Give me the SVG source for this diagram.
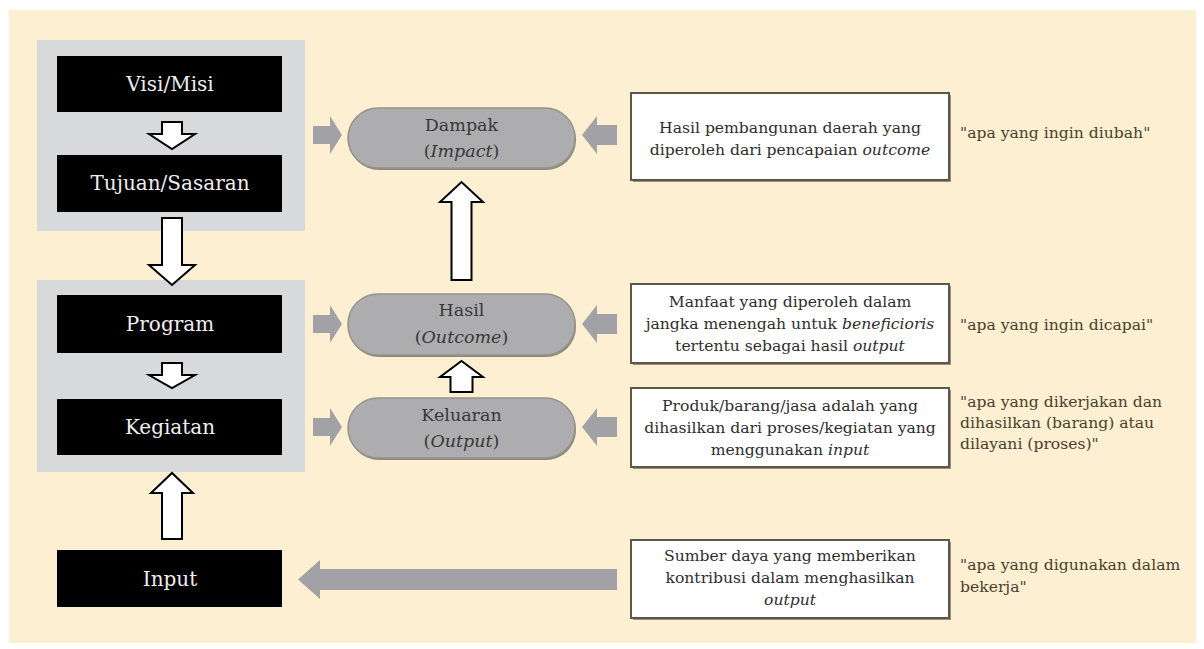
<svg xmlns="http://www.w3.org/2000/svg" width="1204" height="649" viewBox="0 0 1204 649">
<style>
.grp{fill:#D8D9DB}
.blk{fill:#000}
.btxt{font-family:"DejaVu Serif","Liberation Serif",serif;font-size:20px;fill:#EFEFEF;text-anchor:middle}
.pill{fill:#ADADAF;stroke:#96918A;stroke-width:1.5}
.pshadow{fill:#8E887C}
.ptxt{font-family:"DejaVu Serif","Liberation Serif",serif;font-size:17.5px;fill:#383838;text-anchor:middle}
.desc{fill:#FFFFFF;stroke:#5E5748;stroke-width:2}
.dshadow{fill:#9A9080}
.dtxt{font-family:"DejaVu Serif","Liberation Serif",serif;font-size:15.6px;fill:#2E2E2E;text-anchor:middle}
.qtxt{font-family:"DejaVu Serif","Liberation Serif",serif;font-size:15.6px;fill:#4A3F2C}
.garr{fill:#A2A2A6}
.warr{fill:#FFFFFF;stroke:#000;stroke-width:2;stroke-linejoin:miter}
.it{font-style:italic}
</style>
<rect x="0" y="0" width="1204" height="649" fill="#FFFFFF"/>
<rect x="9" y="10" width="1187" height="633" fill="#FDEFD1"/>

<g id="group-strategic"><rect class="grp" x="37" y="40" width="268" height="191"/></g>
<g id="group-operational"><rect class="grp" x="37" y="280" width="268" height="192"/></g>

<g id="visi-misi"><rect class="blk" x="57" y="56" width="225" height="56"/><text class="btxt" x="170" y="91">Visi/Misi</text></g>
<g id="tujuan-sasaran"><rect class="blk" x="57" y="155" width="225" height="57"/><text class="btxt" x="170" y="190">Tujuan/Sasaran</text></g>
<g id="program"><rect class="blk" x="57" y="295" width="225" height="58"/><text class="btxt" x="170" y="331">Program</text></g>
<g id="kegiatan"><rect class="blk" x="57" y="399" width="225" height="56"/><text class="btxt" x="170" y="434">Kegiatan</text></g>
<g id="input"><rect class="blk" x="57" y="550" width="225" height="57"/><text class="btxt" x="170" y="586">Input</text></g>

<g id="dampak"><rect class="pshadow" x="349" y="110" width="227" height="60" rx="30"/><rect class="pill" x="348" y="108" width="227" height="60" rx="30"/><text class="ptxt" x="461.5" y="131">Dampak</text><text class="ptxt" x="461.5" y="157">(<tspan class="it">Impact</tspan>)</text></g>
<g id="hasil"><rect class="pshadow" x="349" y="296" width="227" height="61" rx="30"/><rect class="pill" x="348" y="294" width="227" height="61" rx="30"/><text class="ptxt" x="461.5" y="316">Hasil</text><text class="ptxt" x="461.5" y="343">(<tspan class="it">Outcome</tspan>)</text></g>
<g id="keluaran"><rect class="pshadow" x="349" y="400" width="227" height="60" rx="30"/><rect class="pill" x="348" y="398" width="227" height="60" rx="30"/><text class="ptxt" x="461.5" y="421">Keluaran</text><text class="ptxt" x="461.5" y="447">(<tspan class="it">Output</tspan>)</text></g>

<g id="desc-dampak"><rect class="dshadow" x="633" y="95" width="318" height="87"/><rect class="desc" x="631" y="93" width="318" height="87"/>
<text class="dtxt" x="790" y="133">Hasil pembangunan daerah yang</text>
<text class="dtxt" x="790" y="155">diperoleh dari pencapaian <tspan class="it">outcome</tspan></text></g>
<g id="desc-hasil"><rect class="dshadow" x="633" y="286" width="318" height="79"/><rect class="desc" x="631" y="284" width="318" height="79"/>
<text class="dtxt" x="790" y="307">Manfaat yang diperoleh dalam</text>
<text class="dtxt" x="790" y="329">jangka menengah untuk <tspan class="it">beneficioris</tspan></text>
<text class="dtxt" x="790" y="351">tertentu sebagai hasil <tspan class="it">output</tspan></text></g>
<g id="desc-keluaran"><rect class="dshadow" x="633" y="390" width="318" height="79"/><rect class="desc" x="631" y="388" width="318" height="79"/>
<text class="dtxt" x="790" y="411">Produk/barang/jasa adalah yang</text>
<text class="dtxt" x="790" y="433">dihasilkan dari proses/kegiatan yang</text>
<text class="dtxt" x="790" y="455">menggunakan <tspan class="it">input</tspan></text></g>
<g id="desc-input"><rect class="dshadow" x="633" y="542" width="318" height="78"/><rect class="desc" x="631" y="540" width="318" height="78"/>
<text class="dtxt" x="790" y="561">Sumber daya yang memberikan</text>
<text class="dtxt" x="790" y="583">kontribusi dalam menghasilkan</text>
<text class="dtxt" x="790" y="605" font-style="italic">output</text></g>

<g id="quote-dampak"><text class="qtxt" x="960" y="138">"apa yang ingin diubah"</text></g>
<g id="quote-hasil"><text class="qtxt" x="960" y="330">"apa yang ingin dicapai"</text></g>
<g id="quote-keluaran"><text class="qtxt" x="960" y="407">"apa yang dikerjakan dan</text><text class="qtxt" x="960" y="428">dihasilkan (barang) atau</text><text class="qtxt" x="960" y="449">dilayani (proses)"</text></g>
<g id="quote-input"><text class="qtxt" x="960" y="570">"apa yang digunakan dalam</text><text class="qtxt" x="960" y="592">bekerja"</text></g>

<g id="connectors">
<polygon class="garr" points="313,126 330,126 330,116 342,135 330,154 330,144 313,144"/>
<polygon class="garr" points="313,315 330,315 330,305 342,324 330,343 330,333 313,333"/>
<polygon class="garr" points="313,418 330,418 330,408 342,427 330,446 330,436 313,436"/>
<polygon class="garr" points="617,125 597,125 597,116 582,135 597,154 597,145 617,145"/>
<polygon class="garr" points="617,314 597,314 597,305 582,324 597,343 597,334 617,334"/>
<polygon class="garr" points="617,417 597,417 597,408 582,427 597,446 597,437 617,437"/>
<polygon class="garr" points="617,569 320,569 320,560 298,579.5 320,599 320,590 617,590"/>
<polygon class="warr" points="162,122 182,122 182,134 195,134 172,149 149,134 162,134"/>
<polygon class="warr" points="162,218 182,218 182,265 195,265 172,285 149,265 162,265"/>
<polygon class="warr" points="162,363 182,363 182,375 195,375 172,388 149,375 162,375"/>
<polygon class="warr" points="162,539 182,539 182,493 193,493 172,473 151,493 162,493"/>
<polygon class="warr" points="451.5,280 471.5,280 471.5,202 483,202 461.5,182 440,202 451.5,202"/>
<polygon class="warr" points="450.5,392 472.5,392 472.5,377 483,377 461.5,361 440,377 450.5,377"/>
</g>
</svg>
